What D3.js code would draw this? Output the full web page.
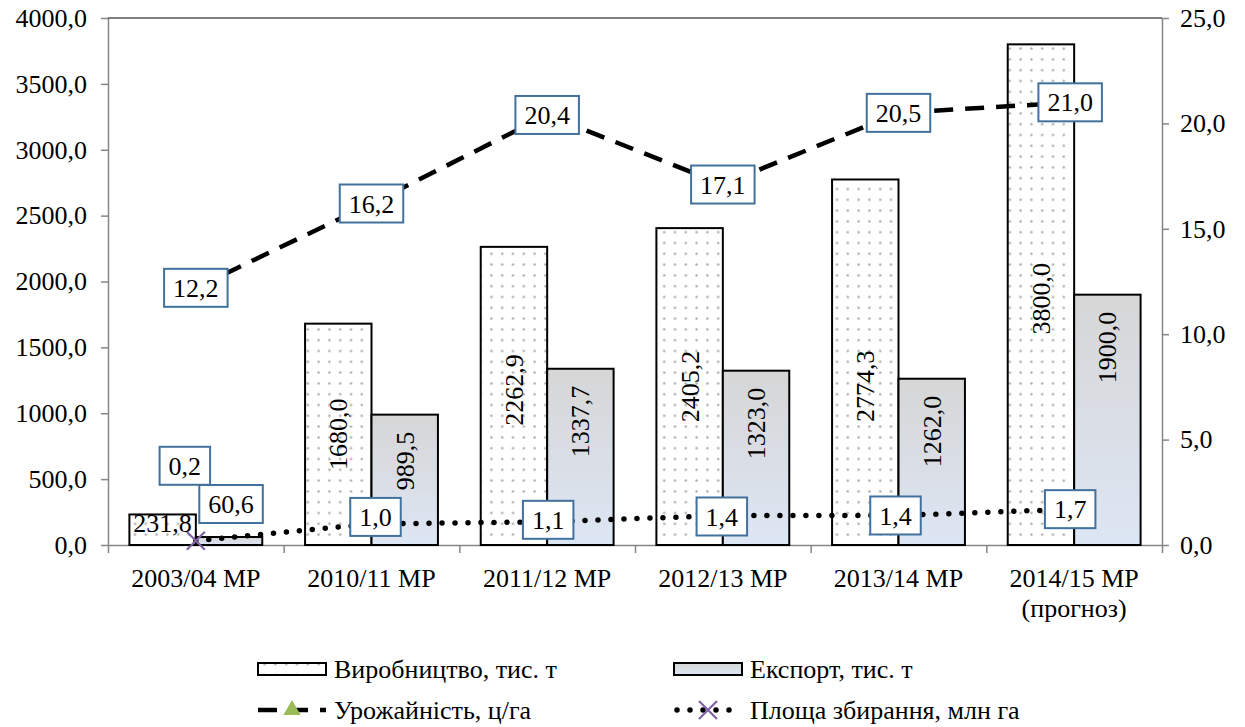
<!DOCTYPE html>
<html>
<head>
<meta charset="utf-8">
<script src="https://cdn.jsdelivr.net/npm/d3@7/dist/d3.min.js"></script>
<style>
  html, body { margin: 0; padding: 0; background: #fff; }
</style>
</head>
<body>
<svg id="chart" width="1245" height="727"></svg>
<script>
// Marketing years (last one is a forecast, split on two lines)
const categories = ["2003/04 MP", "2010/11 MP", "2011/12 MP", "2012/13 MP", "2013/14 MP", "2014/15 MP|(прогноз)"];
// Production and export, thousand tonnes (left axis)
const production = [231.8, 1680.0, 2262.9, 2405.2, 2774.3, 3800.0];
const exportsT = [60.6, 989.5, 1337.7, 1323.0, 1262.0, 1900.0];
// Yield, c/ha and harvested area, mln ha (right axis)
const yieldCha = [12.2, 16.2, 20.4, 17.1, 20.5, 21.0];
const areaMha = [0.2, 1.0, 1.1, 1.4, 1.4, 1.7];
// Axis ticks
const leftTicks = [0, 500, 1000, 1500, 2000, 2500, 3000, 3500, 4000];
const rightTicks = [0, 5, 10, 15, 20, 25];
// Legend entries
const legendNames = ["Виробництво, тис. т", "Експорт, тис. т", "Урожайність, ц/га", "Площа збирання, млн га"];

const fmt = v => d3.format(".1f")(v).replace(".", ",");
const FONT = "Liberation Serif";
const FS = 26;

const svg = d3.select("#chart").style("font-family", FONT);
const plot = { left: 108, right: 1162, top: 18, bottom: 545 };

const x0 = d3.scaleBand().domain(d3.range(categories.length)).range([plot.left, plot.right]);
const x1 = d3.scaleBand().domain(["prod", "exp"]).range([21.4, x0.bandwidth() - 21.4]);
const yL = d3.scaleLinear().domain([0, 4000]).range([plot.bottom, plot.top]);
const yR = d3.scaleLinear().domain([0, 25]).range([plot.bottom, plot.top]);
const cx = i => x0(i) + x0.bandwidth() / 2;

const txt = sel => sel.style("font-family", FONT).attr("font-size", FS).attr("fill", "#000");

const defs = svg.append("defs");
// Fine dotted fill for production bars
const pat = defs.append("pattern").attr("id", "dots").attr("patternUnits", "userSpaceOnUse")
  .attr("width", 21.6).attr("height", 21.6);
pat.append("rect").attr("width", 21.6).attr("height", 21.6).attr("fill", "#fff");
[[5.4, 5.4], [16.2, 5.4], [5.4, 16.2], [16.2, 16.2]].forEach(p =>
  pat.append("circle").attr("cx", p[0]).attr("cy", p[1]).attr("r", 1.2).attr("fill", "#a8a8a8"));
// Gray-to-pale-blue gradient for export bars
const grad = defs.append("linearGradient").attr("id", "expGrad").attr("x1", 0).attr("y1", 0).attr("x2", 0).attr("y2", 1);
grad.append("stop").attr("offset", "0%").attr("stop-color", "#d6d6d6");
grad.append("stop").attr("offset", "100%").attr("stop-color", "#dde6f4");

// Axes
const axisColor = "#868686";
const gL = svg.append("g").attr("transform", `translate(${plot.left},0)`)
  .call(d3.axisLeft(yL).tickValues(leftTicks).tickFormat(fmt).tickSizeOuter(0).tickSizeInner(7).tickPadding(14));
const gR = svg.append("g").attr("transform", `translate(${plot.right},0)`)
  .call(d3.axisRight(yR).tickValues(rightTicks).tickFormat(fmt).tickSizeOuter(0).tickSizeInner(7).tickPadding(11));
const xTickScale = d3.scaleLinear().domain([0, categories.length]).range([plot.left, plot.right]);
const gB = svg.append("g").attr("transform", `translate(0,${plot.bottom})`)
  .call(d3.axisBottom(xTickScale).tickValues(d3.range(categories.length + 1)).tickFormat("").tickSizeOuter(0).tickSizeInner(8));
[gL, gR, gB].forEach(g => {
  g.attr("font-family", null);
  g.selectAll("path, line").attr("stroke", axisColor).attr("stroke-width", 1.5);
  g.selectAll("text").call(txt);
});
// Top frame line
svg.append("line").attr("x1", plot.left).attr("x2", plot.right).attr("y1", plot.top).attr("y2", plot.top)
  .attr("stroke", "#000").attr("stroke-width", 1.2);

// Category labels
categories.forEach((c, i) => {
  const t = svg.append("text").attr("x", cx(i)).attr("y", 587).attr("text-anchor", "middle").call(txt);
  c.split("|").forEach((ln, k) => t.append("tspan").attr("x", cx(i)).attr("dy", k === 0 ? 0 : 30).text(ln));
});

// Bars
const barG = svg.append("g");
production.forEach((v, i) => {
  barG.append("rect").attr("x", x0(i) + x1("prod")).attr("y", yL(v))
    .attr("width", x1.bandwidth()).attr("height", yL(0) - yL(v))
    .attr("fill", "url(#dots)").attr("stroke", "#000").attr("stroke-width", 2);
});
exportsT.forEach((v, i) => {
  barG.append("rect").attr("x", x0(i) + x1("exp")).attr("y", yL(v))
    .attr("width", x1.bandwidth()).attr("height", yL(0) - yL(v))
    .attr("fill", "url(#expGrad)").attr("stroke", "#000").attr("stroke-width", 2);
});

// Lines
const lineG = svg.append("g");
const seriesLine = d3.line().x((d, i) => cx(i)).y(d => yR(d));
lineG.append("path").datum(yieldCha).attr("d", seriesLine).attr("fill", "none")
  .attr("stroke", "#000").attr("stroke-width", 4.5).attr("stroke-dasharray", "19,12");
lineG.append("path").datum(areaMha).attr("d", seriesLine).attr("fill", "none")
  .attr("stroke", "#000").attr("stroke-width", 5.5).attr("stroke-linecap", "round").attr("stroke-dasharray", "0,13");

// Markers
const tri = d3.symbol().type(d3.symbolTriangle).size(130);
yieldCha.forEach((v, i) => {
  lineG.append("path").attr("d", tri()).attr("transform", `translate(${cx(i)},${yR(v)})`).attr("fill", "#9bbb59");
});
const crossPath = s => `M${-s},${-s}L${s},${s}M${-s},${s}L${s},${-s}`;
areaMha.forEach((v, i) => {
  lineG.append("path").attr("d", crossPath(9)).attr("transform", `translate(${cx(i)},${yR(v)})`)
    .attr("stroke", "#8064a2").attr("stroke-width", 2.2).attr("fill", "none");
});

// Labels
const labG = svg.append("g");
function boxLabel(x, y, label, padX) {
  const g = labG.append("g").attr("transform", `translate(${x},${y})`);
  const t = g.append("text").attr("text-anchor", "middle").attr("dy", "0.35em").call(txt).text(label);
  const w = t.node().getComputedTextLength() + padX * 2;
  g.insert("rect", "text").attr("x", -w / 2).attr("y", -19).attr("width", w).attr("height", 38)
    .attr("fill", "#fff").attr("stroke", "#41719c").attr("stroke-width", 2);
}
// Bar value labels: vertical inside the bar, horizontal at the top for short bars
const prodShift = [0, 0, -6, 0, 24, 4];
production.forEach((v, i) => {
  const bx = x0(i) + x1("prod") + x1.bandwidth() / 2;
  const h = yL(0) - yL(v);
  if (h < 80) {
    labG.append("text").attr("x", bx).attr("y", yL(v) + 8).attr("dy", "0.35em").attr("text-anchor", "middle").call(txt).text(fmt(v));
  } else {
    const my = (yL(v) + yL(0)) / 2 + prodShift[i];
    labG.append("text").attr("transform", `translate(${bx},${my}) rotate(-90)`)
      .attr("text-anchor", "middle").attr("dy", "0.35em").call(txt).text(fmt(v));
  }
});
exportsT.forEach((v, i) => {
  const bx = x0(i) + x1("exp") + x1.bandwidth() / 2;
  const h = yL(0) - yL(v);
  if (h < 80) {
    boxLabel(bx + 2, yL(v) - 33, fmt(v), 9);
  } else {
    labG.append("text").attr("transform", `translate(${bx},${yL(v) + 17}) rotate(-90)`)
      .attr("text-anchor", "end").attr("dy", "0.35em").call(txt).text(fmt(v));
  }
});
yieldCha.forEach((v, i) => boxLabel(cx(i) + (i === 5 ? -4 : 0), yR(v), fmt(v), 9));
const areaShift = [[-11, -75], [4, -7], [1, -2], [-1, 1], [-3, 0], [-4, 0]];
areaMha.forEach((v, i) => boxLabel(cx(i) + areaShift[i][0], yR(v) + areaShift[i][1], fmt(v), 9));

// Legend
const lg = svg.append("g");
const legX = [258, 674], legY = [669, 710];
lg.append("rect").attr("x", legX[0]).attr("y", legY[0] - 6).attr("width", 68).attr("height", 12)
  .attr("fill", "url(#dots)").attr("stroke", "#000").attr("stroke-width", 2);
lg.append("rect").attr("x", legX[1]).attr("y", legY[0] - 6).attr("width", 68).attr("height", 12)
  .attr("fill", "url(#expGrad)").attr("stroke", "#000").attr("stroke-width", 2);
lg.append("line").attr("x1", legX[0]).attr("x2", legX[0] + 68).attr("y1", legY[1]).attr("y2", legY[1])
  .attr("stroke", "#000").attr("stroke-width", 4.5).attr("stroke-dasharray", "19,12");
lg.append("path").attr("d", tri()).attr("transform", `translate(${legX[0] + 34},${legY[1]})`).attr("fill", "#9bbb59");
lg.append("line").attr("x1", legX[1] + 3).attr("x2", legX[1] + 68).attr("y1", legY[1]).attr("y2", legY[1])
  .attr("stroke", "#000").attr("stroke-width", 5.5).attr("stroke-linecap", "round").attr("stroke-dasharray", "0,13");
lg.append("path").attr("d", crossPath(9)).attr("transform", `translate(${legX[1] + 34},${legY[1]})`)
  .attr("stroke", "#8064a2").attr("stroke-width", 2.2).attr("fill", "none");
legendNames.forEach((n, k) => {
  lg.append("text").attr("x", legX[k % 2] + 76).attr("y", legY[Math.floor(k / 2)]).attr("dy", "0.35em").call(txt).text(n);
});
</script>
</body>
</html>
